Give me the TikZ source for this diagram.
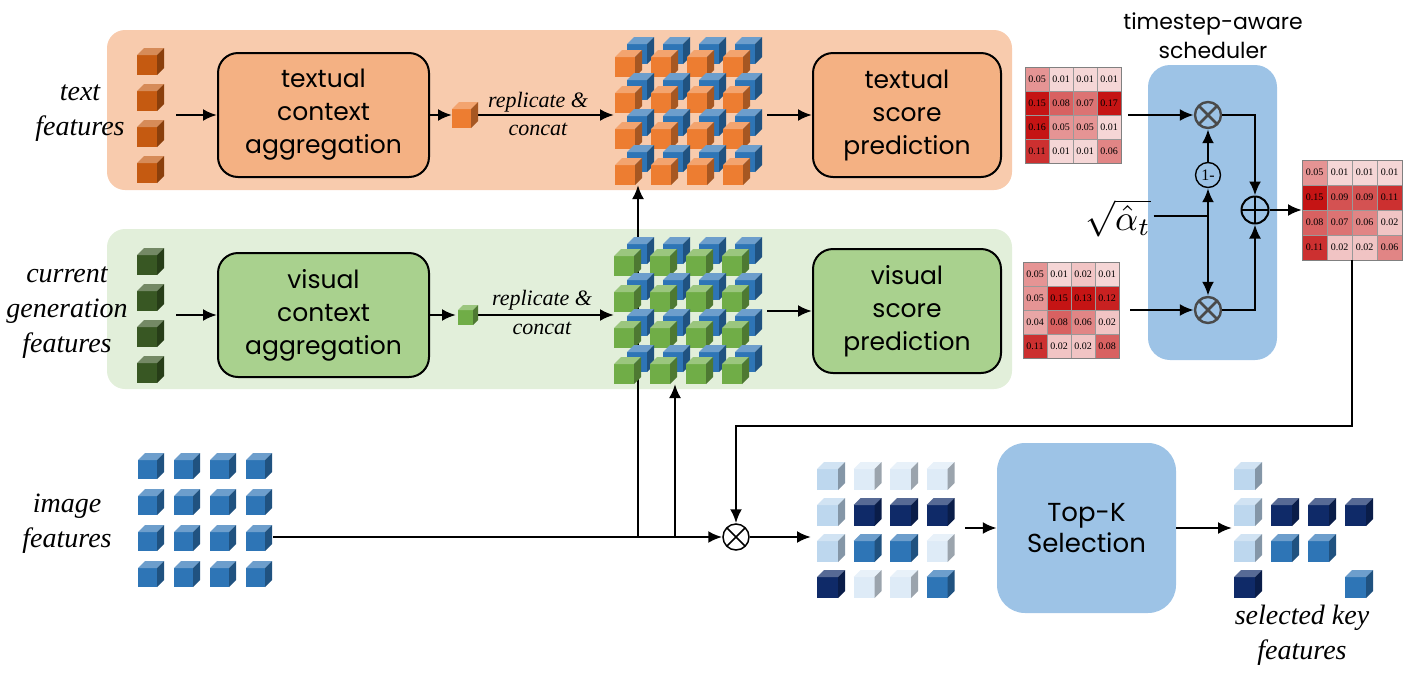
\documentclass[tikz,border=0pt]{standalone}
\usepackage{fontspec}
\setmainfont{Liberation Serif}
\newfontfamily\comic{Poppins}
\usetikzlibrary{arrows.meta,calc}
\definecolor{bandO}{HTML}{F8CBAD}
\definecolor{boxO}{HTML}{F4B183}
\definecolor{bandG}{HTML}{E2EFDA}
\definecolor{boxG}{HTML}{A9D18E}
\definecolor{boxB}{HTML}{9DC3E6}
\definecolor{cOrD}{HTML}{C55A11}
\definecolor{cOr}{HTML}{ED7D31}
\definecolor{cBl}{HTML}{2E75B6}
\definecolor{cGr}{HTML}{70AD47}
\definecolor{cGrD}{HTML}{385723}
\definecolor{cNavy}{HTML}{0F2A68}
\definecolor{cLb}{HTML}{BDD7EE}
\definecolor{cVlb}{HTML}{DEEBF7}
\definecolor{mred}{HTML}{C00000}
\definecolor{xgray}{HTML}{4A4A4A}

% cube: x, y (top-left of bounding box), colour, front size, depth
\newcommand\cubeat[5]{%
  \begin{scope}[shift={(#1,#2)}]
    \fill[#3] (0,#5) rectangle (#4,#5+#4);
    \fill[#3!70!white] (0,#5) -- (#5,0) -- (#4+#5,0) -- (#4,#5) -- cycle;
    \fill[#3!70!black] (#4,#5) -- (#4+#5,0) -- (#4+#5,#4) -- (#4,#5+#4) -- cycle;
  \end{scope}}

% heat matrix: name, x0, y0, cell size, 16 values
\newcommand\heatmat[5]{%
  \foreach \v [count=\i from 0] in {#5} {%
    \pgfmathtruncatemacro\rr{floor(\i/4)}%
    \pgfmathtruncatemacro\cc{mod(\i,4)}%
    \pgfmathtruncatemacro\pp{min(92,10+\v*650)}%
    \node[hcell, minimum size=#4, fill=mred!\pp!white] (#1-\i) at ({#2+(\cc+0.5)*#4},{#3+(\rr+0.5)*#4}) {\v};
  }
  \node[ghost, draw=gray, line width=0.8pt, minimum size=4*#4] (#1) at ({#2+2*#4},{#3+2*#4}) {};
}

\begin{document}
\begin{tikzpicture}[x=1pt,y=-1pt,
  arr/.style={-{Latex[length=14pt,width=12pt]}, line width=2.5pt},
  ln/.style={line width=2.5pt},
  ghost/.style={inner sep=0, outer sep=0},
  band/.style={rounded corners=18, inner sep=0, outer sep=0},
  ctx/.style={draw, line width=2pt, rounded corners=20, minimum width=211, minimum height=124,
    align=center, inner sep=0, font=\comic\fontsize{25}{33}\selectfont},
  lbl/.style={font=\fontsize{28}{35}\selectfont\itshape, align=center, inner sep=0},
  rep/.style={font=\fontsize{22}{26}\selectfont\itshape, inner sep=0},
  hcell/.style={draw=gray!80, line width=0.6pt, inner sep=0, outer sep=0, font=\fontsize{10}{10}\selectfont},
  otim/.style={circle, draw=xgray, line width=2.4pt, minimum size=26, inner sep=0,
    path picture={\draw[xgray, line width=2.6pt] (path picture bounding box.north west) -- (path picture bounding box.south east)
      (path picture bounding box.south west) -- (path picture bounding box.north east);}},
  oplus/.style={circle, draw, line width=2pt, minimum size=27, inner sep=0,
    path picture={\draw[line width=2pt] (path picture bounding box.north) -- (path picture bounding box.south)
      (path picture bounding box.west) -- (path picture bounding box.east);}},
  bluebox/.style={fill=boxB, inner sep=0, align=center}
]
\useasboundingbox (0,0) rectangle (1408,681);

% bands
\node[band, fill=bandO, minimum width=905, minimum height=160] (tband) at (559.5,110) {};
\node[band, fill=bandG, minimum width=905, minimum height=160] (vband) at (559.5,309) {};

% boxes
\node[ctx, fill=boxO] (tctx) at (323.5,115) {textual\\context\\aggregation};
\node[ctx, fill=boxG] (vctx) at (323.5,315) {visual\\context\\aggregation};
\node[ctx, fill=boxO, minimum width=188] (tscore) at (907,115) {textual\\score\\prediction};
\node[ctx, fill=boxG, minimum width=188] (vscore) at (907,311) {visual\\score\\prediction};

% labels
\node[lbl] (ltext) at (80,113) {text\\features};
\node[lbl] (lcur) at (67,313) {current\\generation\\features};
\node[lbl] (limg) at (67,524) {image\\features};
\node[lbl] (lsel) at (1302,635) {selected key\\features};
\node[rep] (trep1) at (538,102) {replicate \&};
\node[rep] (trep2) at (538,129) {concat};
\node[rep] (vrep1) at (542,300) {replicate \&};
\node[rep] (vrep2) at (542,328) {concat};

% ghost nodes for cube groups
\node[ghost, minimum width=27, minimum height=134] (tfeat) at (150.5,115) {};
\node[ghost, minimum width=27, minimum height=134] (vfeat) at (150.5,315) {};
\node[ghost, minimum width=26, minimum height=26] (tsmall) at (465,115) {};
\node[ghost, minimum width=20, minimum height=20] (vsmall) at (466,315) {};
\node[ghost, minimum width=153, minimum height=148] (tgrid) at (690.5,111) {};
\node[ghost, minimum width=153, minimum height=147] (vgrid) at (690.5,310.5) {};
\node[ghost, minimum width=135, minimum height=136] (imgrid) at (205.5,521) {};
\node[ghost, minimum width=138, minimum height=136] (wgrid) at (886,530) {};
\node[ghost, minimum width=139, minimum height=136] (selgrid) at (1303.5,530) {};

% scheduler and top-k
\node[bluebox, rounded corners=22, minimum width=129, minimum height=295] (sched) at (1212.5,212.5) {};
\node[align=center, inner sep=0, font=\comic\fontsize{22}{29}\selectfont] (schedt) at (1213,36) {timestep-aware\\scheduler};
\node[bluebox, rounded corners=28, minimum width=179, minimum height=170, font=\comic\fontsize{26}{31}\selectfont] (topk) at (1086.5,528) {Top-K\\Selection};

% heat matrices
\heatmat{tmat}{1025}{67}{24}{0.05,0.01,0.01,0.01,0.15,0.08,0.07,0.17,0.16,0.05,0.05,0.01,0.11,0.01,0.01,0.06}
\heatmat{bmat}{1023}{262}{24}{0.05,0.01,0.02,0.01,0.05,0.15,0.13,0.12,0.04,0.08,0.06,0.02,0.11,0.02,0.02,0.08}
\heatmat{outmat}{1302}{160}{25}{0.05,0.01,0.01,0.01,0.15,0.09,0.09,0.11,0.08,0.07,0.06,0.02,0.11,0.02,0.02,0.06}

% scheduler operators
\node[otim] (mt) at (1208,115) {};
\node[otim] (mb) at (1208,310) {};
\node[circle, draw, line width=1.4pt, minimum size=25, inner sep=0, font=\fontsize{16}{16}\selectfont] (om) at (1208,175) {1-};
\node[oplus] (pl) at (1255,210) {};
\node[inner sep=0, scale=3.6] (sq) at (1118,218) {$\sqrt{\hat{\alpha}_t}$};
\coordinate (sj) at (1208,216);
\node[otim, draw=black, line width=1.5pt, fill=white, minimum size=26,
  path picture={\draw[line width=1.5pt] (path picture bounding box.north west) -- (path picture bounding box.south east)
      (path picture bounding box.south west) -- (path picture bounding box.north east);}] (mulimg) at (736,537) {};
\coordinate (j1) at (638,537);
\coordinate (j2) at (675,537);
\coordinate (fb) at (736,426);

% connectors
\draw[arr] ([xshift=12pt]tfeat.east) -- (tctx.west);
\draw[arr] ([xshift=12pt]vfeat.east) -- (vctx.west);
\draw[arr] (tctx.east) -- (tsmall.west);
\draw[arr] (vctx.east) -- (vsmall.west);
\draw[arr] (tsmall.east) -- (tsmall.east -| tgrid.west);
\draw[arr] (vsmall.east) -- (vsmall.east -| vgrid.west);
\draw[arr] (tgrid.east |- tscore.west) -- (tscore.west);
\draw[arr] (vgrid.east |- vscore.west) -- (vscore.west);
\draw[arr] (imgrid.east |- mulimg) -- (mulimg.west);
\draw[arr] (j1) -- (j1 |- tgrid.south);
\draw[arr] (j2) -- (j2 |- vgrid.south);
\draw[arr] (mulimg.east) -- ($(mulimg -| wgrid.west)+(-6,0)$);
\draw[arr] ($(wgrid.east |- topk.west)+(10,0)$) -- (topk.west);
\draw[arr] (topk.east) -- ($(selgrid.west |- topk.east)+(-2,0)$);
\draw[arr] (outmat.south) |- (fb) -- (mulimg.north);
\draw[arr] ([xshift=7pt]tmat.east) -- (mt.west);
\draw[arr] ([xshift=11pt]bmat.east) -- (mb.west);
\draw[ln] ([xshift=2pt]sq.east |- sj) -- (sj);
\draw[arr] (sj) -- (om.south);
\draw[arr] (om.north) -- (mt.south);
\draw[arr] (sj) -- (mb.north);
\draw[arr] (mt.east) -| (pl.north);
\draw[arr] (mb.east) -| (pl.south);
\draw[arr] (pl.east) -- (outmat.west);

% cubes
\foreach \r in {0,...,3} {
  \cubeat{137}{48+36*\r}{cOrD}{20}{7}
  \cubeat{137}{248+36*\r}{cGrD}{20}{7}
}
\cubeat{452}{102}{cOr}{19}{7}
\cubeat{458}{305}{cGr}{15}{5}
\foreach \r in {0,...,3} {
  \foreach \c in {0,...,3} {\cubeat{627+36*\c}{37+36*\r}{cBl}{20}{7}}
  \foreach \c in {0,...,3} {\cubeat{615+36*\c}{50+36*\r}{cOr}{20}{7}}
}
\foreach \r in {0,...,3} {
  \foreach \c in {0,...,3} {\cubeat{627+36*\c}{237+36*\r}{cBl}{20}{7}}
  \foreach \c in {0,...,3} {\cubeat{614+36*\c}{249+36*\r}{cGr}{20}{7}}
}
\foreach \r in {0,...,3} {
  \foreach \c in {0,...,3} {\cubeat{138+36*\c}{453+36*\r}{cBl}{19}{7}}
}
\foreach \c/\r/\cl in {0/0/cLb,1/0/cVlb,2/0/cVlb,3/0/cVlb,
  0/1/cLb,1/1/cNavy,2/1/cNavy,3/1/cNavy,
  0/2/cLb,1/2/cBl,2/2/cBl,3/2/cVlb,
  0/3/cNavy,1/3/cVlb,2/3/cVlb,3/3/cBl} {
  \cubeat{817+36.5*\c}{462+36*\r}{\cl}{21}{7}
}
\foreach \c/\r/\cl in {0/0/cLb,
  0/1/cLb,1/1/cNavy,2/1/cNavy,3/1/cNavy,
  0/2/cLb,1/2/cBl,2/2/cBl,
  0/3/cNavy,3/3/cBl} {
  \cubeat{1234+37*\c}{462+36*\r}{\cl}{21}{7}
}
\end{tikzpicture}
\end{document}
